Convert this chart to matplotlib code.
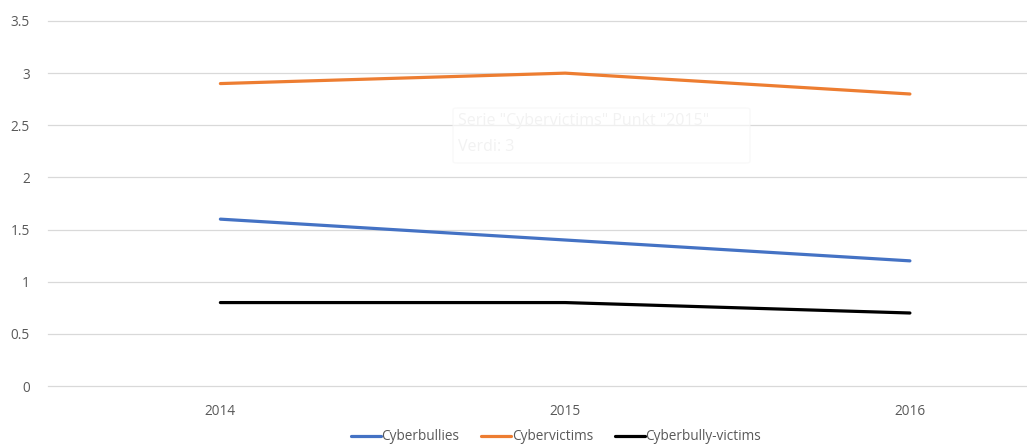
import numpy as np
import matplotlib
matplotlib.use("Agg")
import matplotlib.pyplot as plt
from matplotlib.patches import FancyBboxPatch

years = ["2014", "2015", "2016"]
cyberbullies = [1.6, 1.4, 1.2]
cybervictims = [2.9, 3.0, 2.8]
cyberbully_victims = [0.8, 0.8, 0.7]
series_names = ["Cyberbullies", "Cybervictims", "Cyberbully-victims"]
colors = ["#4472C4", "#ED7D31", "#000000"]
yticks = [0, 0.5, 1, 1.5, 2, 2.5, 3, 3.5]

plt.rcParams['font.family'] = ['Open Sans', 'DejaVu Sans']

fig = plt.figure(figsize=(10.27, 4.45), dpi=100)
ax = fig.add_axes([48 / 1027, 1 - 386 / 445, 1 - 48 / 1027, (386 - 21) / 445])

x = np.arange(len(years))
for data, name, c in zip([cyberbullies, cybervictims, cyberbully_victims], series_names, colors):
    ax.plot(x, data, color=c, linewidth=2.3, label=name, solid_capstyle='round', zorder=3)

ax.set_ylim(0, 3.5)
ax.set_xlim(-0.5, (1027 - 221) / 344.5)
ax.set_yticks(yticks)
ax.set_yticklabels([f"{t:g}" for t in yticks])
ax.set_xticks(x)
ax.set_xticklabels(years)
ax.grid(axis='y', color='#d9d9d9', linewidth=0.9)
for gl in ax.get_ygridlines():
    gl.set_clip_on(False)
ax.set_axisbelow(True)
for s in ax.spines.values():
    s.set_visible(False)
ax.tick_params(axis='both', length=0, labelsize=9.8, labelcolor='#595959')
ax.tick_params(axis='y', pad=13)
ax.tick_params(axis='x', pad=13)

# faded tooltip left over in the screenshot
box = FancyBboxPatch((453 / 1027, 1 - 163 / 445), 297 / 1027, 55 / 445,
                     boxstyle="round,pad=0,rounding_size=0.004", transform=fig.transFigure,
                     facecolor='white', edgecolor='#f5f5f5', linewidth=1.0, zorder=1, alpha=0.6)
fig.patches.append(box)
fig.text(458 / 1027, 1 - 121 / 445, 'Serie "Cybervictims" Punkt "2015"', fontsize=11.5,
         color='#f2f2f2', va='center', ha='left')
fig.text(458 / 1027, 1 - 147 / 445, 'Verdi: 3', fontsize=11.5,
         color='#f2f2f2', va='center', ha='left')

leg = fig.legend(loc='center', bbox_to_anchor=(556 / 1027, 1 - 437 / 445), ncol=3,
                 frameon=False, fontsize=9.8, handlelength=2.2, handletextpad=0.05,
                 columnspacing=1.6)
for t in leg.get_texts():
    t.set_color('#595959')

fig.savefig("out.png", dpi=100)
